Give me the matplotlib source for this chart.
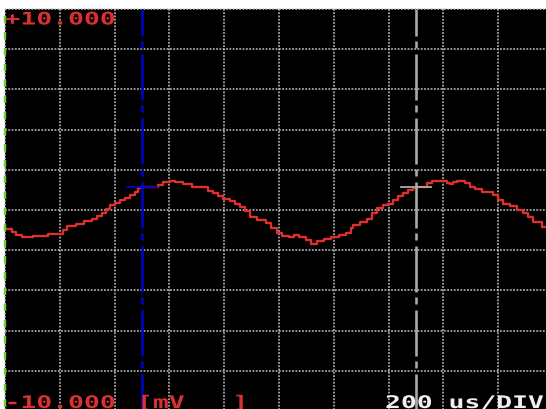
import numpy as np
import matplotlib
matplotlib.use("Agg")
import matplotlib.pyplot as plt
from matplotlib.patheffects import AbstractPathEffect
from matplotlib.transforms import Affine2D

# Sampled trace: step start times (us) and held level (mV)
time_us = [
    0, 26, 40, 62, 102, 157, 212, 226, 259, 288,
    318, 336, 354, 369, 383, 402, 420, 438, 456, 475,
    485, 500, 558, 577, 602, 620, 650, 683, 741, 759,
    777, 796, 821, 839, 858, 876, 894, 920, 953, 971,
    993, 1011, 1037, 1055, 1073, 1099, 1117, 1139, 1164, 1190,
    1219, 1245, 1263, 1270, 1296, 1321, 1339, 1358, 1380, 1398,
    1416, 1434, 1453, 1471, 1489, 1504, 1540, 1558, 1613, 1624,
    1635, 1650, 1679, 1697, 1715, 1741, 1781, 1799, 1818, 1843,
    1869, 1891, 1909, 1927, 1960, 2000,
]
level_mv = [
    -0.96, -1.07, -1.22, -1.35, -1.29, -1.17, -1.00, -0.82, -0.72, -0.57,
    -0.46, -0.32, -0.17, 0.07, 0.24, 0.37, 0.49, 0.62, 0.74, 0.92,
    1.07, 1.12, 1.22, 1.37, 1.43, 1.37, 1.27, 1.12, 0.94, 0.87,
    0.69, 0.57, 0.44, 0.32, 0.17, -0.07, -0.37, -0.50, -0.64, -0.90,
    -1.12, -1.30, -1.33, -1.25, -1.33, -1.51, -1.68, -1.54, -1.42, -1.33,
    -1.25, -1.12, -0.90, -0.76, -0.62, -0.46, -0.17, 0.12, 0.24, 0.32,
    0.49, 0.71, 0.87, 0.99, 1.07, 1.12, 1.32, 1.43, 1.35, 1.27,
    1.40, 1.43, 1.32, 1.15, 1.03, 0.91, 0.74, 0.49, 0.32, 0.21,
    -0.01, -0.17, -0.34, -0.62, -0.84, -0.84,
]

# Cursors
cursor_time_us = [500, 1500]
cursor_level_mv = [1.12, 1.12]
cursor_colors = ["#0000CC", "#ABABAB"]

# Screen scale
y_range_mv = [-10, 10]
volts_per_div_mv = 2
time_per_div_us = 200
n_div = 10
scale_labels = ["+10.000", "-10.000"]
unit_label = "[mV   ]"
timebase_label = "200 us/DIV"

W, H = 546, 410
PX = 72 / 100  # points per pixel
plt.rcParams["lines.scale_dashes"] = False


class HStretch(AbstractPathEffect):
    """Widen glyph outlines horizontally about the text origin."""

    def __init__(self, sx):
        super().__init__()
        self.sx = sx

    def draw_path(self, renderer, gc, tpath, affine, rgbFace=None):
        renderer.draw_path(gc, tpath, Affine2D().scale(self.sx, 1.0) + affine, rgbFace)


fig = plt.figure(figsize=(W / 100, H / 100), dpi=100, facecolor="white")
ax = fig.add_axes([5 / W, -2 / H, 548 / W, 402 / H])
ax.set_facecolor("black")
ax.set_xlim(0, n_div * time_per_div_us)
ax.set_ylim(*y_range_mv)
for s in ax.spines.values():
    s.set_visible(False)
ax.set_xticks(np.arange(0, n_div * time_per_div_us + 1, time_per_div_us))
ax.set_yticks(np.arange(y_range_mv[0], y_range_mv[1] + 1, volts_per_div_mv))
ax.tick_params(length=0, labelbottom=False, labelleft=False)
ax.grid(True, color="#C8C8C8", linewidth=1.5 * PX,
        linestyle=(0, (1.8 * PX, 1.5 * PX)))
for gl in ax.get_xgridlines() + ax.get_ygridlines():
    gl.set_clip_on(False)

# Waveform
ax.plot(time_us, level_mv, drawstyle="steps-post", color="#E0302E",
        lw=2.3 * PX, zorder=3)

# Cursor lines with crosshair marks
cursor_half_width_us = 55
for t, v, c in zip(cursor_time_us, cursor_level_mv, cursor_colors):
    ax.plot([t, t], [y_range_mv[1], y_range_mv[0]], color=c, lw=2.6 * PX,
            linestyle=(19 * PX, (46 * PX, 5 * PX, 7 * PX, 6 * PX)), zorder=4)
    ax.plot([t - cursor_half_width_us, t + cursor_half_width_us], [v, v],
            color=c, lw=1.8 * PX, zorder=4)

# Left-edge marker
ax.plot([0, 0], [y_range_mv[1], y_range_mv[0]], color="#6BD41C", lw=2.4 * PX,
        linestyle=(9 * PX, (7 * PX, 9 * PX)), clip_on=False, zorder=5,
        solid_capstyle="butt", dash_capstyle="butt")

# Screen annotations
txt = dict(family="DejaVu Sans Mono", weight="bold", size=12.5, ha="left",
           va="baseline", path_effects=[HStretch(1.52)])
fig.text(4.5 / W, 1 - 25.5 / H, scale_labels[0], color="#D93030", **txt)
fig.text(4.5 / W, 1 - 409 / H, scale_labels[1], color="#D93030", **txt)
fig.text(137 / W, 1 - 409 / H, unit_label, color="#D93030", **txt)
fig.text(385 / W, 1 - 409 / H, timebase_label, color="#F0F0F0", **txt)

fig.savefig("out.png", dpi=100, facecolor="white")
